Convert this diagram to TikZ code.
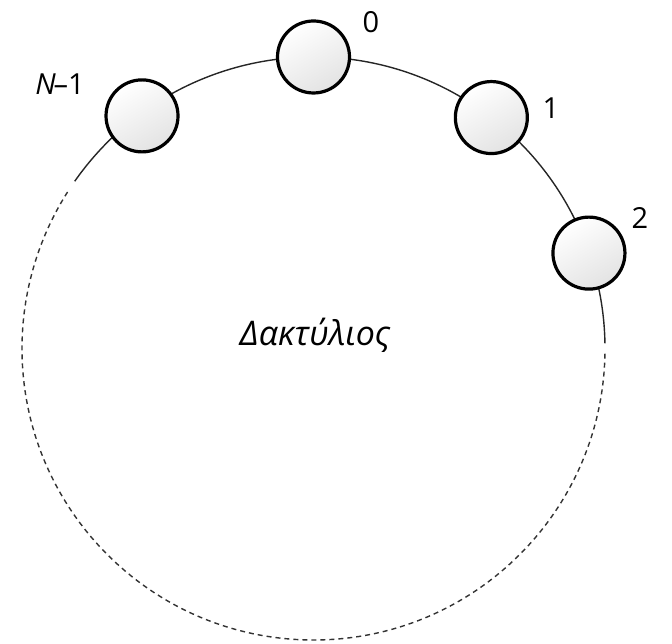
\documentclass[tikz,border=0pt]{standalone}
\usepackage{fontspec}
\setmainfont{Open Sans}
\usetikzlibrary{calc}
\begin{document}
\begin{tikzpicture}[x=1pt,y=1pt,
  station/.style={circle,draw=black,line width=3.2pt,minimum size=72pt,inner sep=0pt,
    top color=white,bottom color=gray!22,shading angle=30},
  ring/.style={line width=1.4pt,draw=black!85},
  ringdash/.style={line width=1.4pt,draw=black!80,dash pattern=on 5pt off 4pt},
  lab/.style={font=\fontsize{29}{31}\selectfont,inner sep=0pt}]
\useasboundingbox (0,0) rectangle (672,644);
\coordinate (c) at (313.5,295.5);
% ring
\draw[ring] ([shift={(c)}]145:291.5) arc (145:1:291.5);
\draw[ringdash] ([shift={(c)}]-1:291.5) arc (-1:-213:291.5);
% stations
\node[station] (n0) at ($(c)+(90:291.5)$) {};
\node[station] (n1) at ($(c)+(52.4:291.5)$) {};
\node[station] (n2) at ($(c)+(19.1:291.5)$) {};
\node[station] (nN) at ($(c)+(126.4:289)$) {};
% labels
\node[lab] (l0) at (371,622) {0};
\node[lab] (l1) at (551,536) {1};
\node[lab] (l2) at (640,426) {2};
\node[lab] (lN) at (60,560) {\itshape N\kern-2pt\upshape–1};
\node[font=\fontsize{34}{38}\selectfont\itshape,inner sep=0pt] (t) at (315,309) {Δακτύλιος};
\end{tikzpicture}
\end{document}
